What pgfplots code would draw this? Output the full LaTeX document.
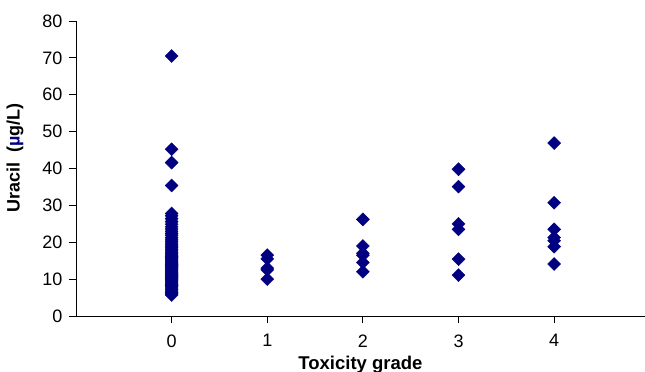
\documentclass[border=0pt]{standalone}
\usepackage{pgfplots}
\pgfplotsset{compat=1.18}
\usepackage{fontspec}
\setmainfont{Liberation Sans}
\definecolor{navy}{RGB}{0,0,128}
\begin{document}
\begin{tikzpicture}
\useasboundingbox (-76pt,-56pt) rectangle (569pt,316pt);
\begin{axis}[
  scale only axis, width=569pt, height=295pt,
  anchor=south west, at={(0pt,0pt)},
  xmin=-1, xmax=4.95, ymin=0, ymax=80,
  axis x line=bottom, axis y line=left,
  axis line style={-, black, line width=0.8pt},
  xtick={0,1,2,3,4}, ytick={0,10,...,80},
  tick align=outside, tick style={black, line width=0.8pt},
  major tick length=7pt,
  /pgf/number format/assume math mode=true,
  tick label style={font=\fontsize{18}{20}\selectfont},
  xticklabel style={anchor=north, yshift=-8pt},
  yticklabel style={anchor=east, xshift=-3pt},
  xlabel={\textbf{Toxicity grade}},
  ylabel={\textbf{Uracil\ \ (\textcolor{navy}{µ}g/L)}},
  every axis x label/.style={at={(axis description cs:0.5,-0.164)}, anchor=center, font=\fontsize{18.5}{20}\selectfont},
  every axis y label/.style={at={(axis description cs:-0.107,0.536)}, rotate=90, anchor=center, font=\fontsize{18}{20}\selectfont},
  clip=false,
]
\addplot[only marks, mark=square*, mark size=4.6pt, color=navy,
  mark options={rotate=45, draw=navy, fill=navy}] coordinates {
(0,70.5)(0,45.2)(0,41.6)(0,35.4)(0,27.8)(0,27.2)(0,26.4)(0,25.6)(0,24.9)(0,24.2)
(0,23.6)(0,23.0)(0,22.4)(0,21.9)(0,21.3)(0,20.8)(0,20.3)(0,19.8)(0,19.3)(0,18.9)
(0,18.5)(0,18.1)(0,17.7)(0,17.3)(0,16.9)(0,16.5)(0,16.1)(0,15.8)(0,15.5)(0,15.2)
(0,14.9)(0,14.6)(0,14.3)(0,14.0)(0,13.7)(0,13.4)(0,13.1)(0,12.8)(0,12.5)(0,12.2)
(0,11.9)(0,11.6)(0,11.3)(0,11.0)(0,10.7)(0,10.4)(0,10.1)(0,9.8)(0,9.5)(0,9.2)
(0,8.9)(0,8.6)(0,8.3)(0,8.0)(0,7.6)(0,7.2)(0,6.8)(0,6.4)(0,6.0)(0,5.7)
(1,16.5)(1,15.5)(1,13.0)(1,12.5)(1,10.0)
(2,26.2)(2,19.0)(2,17.0)(2,16.5)(2,14.5)(2,12.0)
(3,39.8)(3,35.1)(3,25.0)(3,23.5)(3,15.4)(3,11.1)
(4,46.9)(4,30.7)(4,23.5)(4,21.3)(4,20.4)(4,18.8)(4,14.1)
};
\end{axis}
\end{tikzpicture}
\end{document}
